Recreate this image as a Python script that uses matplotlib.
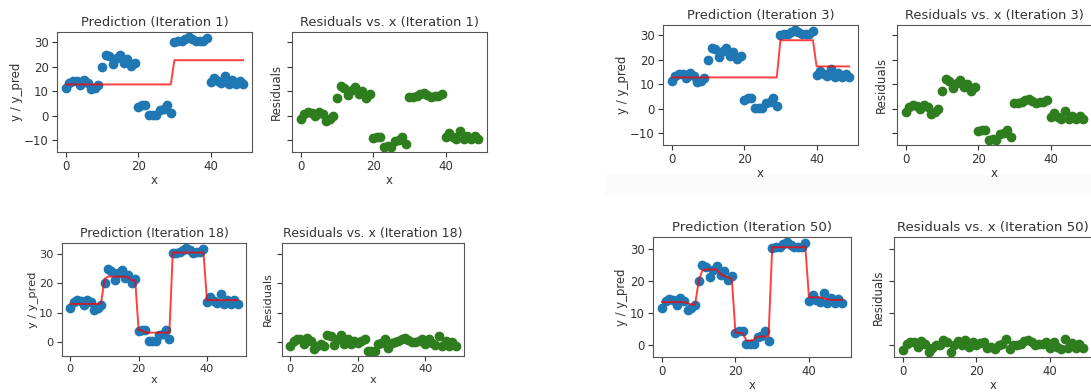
import numpy as np
import matplotlib
matplotlib.use("Agg")
import matplotlib.pyplot as plt
from matplotlib.patches import Rectangle

# ---------------- DATA ----------------
x = np.arange(50)
y = np.array([
    11.5, 13.5, 14.2, 14.0, 12.5, 14.5, 13.5, 10.8, 11.5, 12.5,
    20.0, 24.8, 24.3, 21.3, 23.5, 24.7, 21.7, 23.0, 20.2, 21.5,
    3.7, 4.2, 4.2, 0.2, 0.3, 0.2, 2.5, 2.8, 4.2, 1.2,
    30.2, 30.5, 30.7, 31.5, 32.0, 31.3, 30.5, 30.6, 30.7, 31.7,
    13.8, 15.5, 14.0, 13.3, 16.3, 13.0, 14.5, 13.0, 14.3, 13.0,
])

pred_iter1 = np.array([12.8] * 30 + [22.7] * 20)
pred_iter3 = np.array([12.8] * 30 + [28.0] * 10 + [17.3] * 10)
pred_iter18 = np.array(
    [13.0] * 9 + [13.2, 21.5] + [22.3] * 6 + [22.0, 21.0, 21.0]
    + [4.0, 4.0] + [3.2] * 8
    + [30.5] * 10
    + [14.3] * 10
)
pred_iter50 = np.array(
    [13.3] * 7 + [13.0, 12.5, 12.5]
    + [20.0, 23.3, 23.5, 23.5, 23.5, 23.5, 22.0, 21.5, 21.0, 20.7]
    + [3.7, 3.7, 3.5, 1.2, 1.2, 1.5, 2.5, 2.5, 2.5, 2.5]
    + [30.5] * 9 + [30.8]
    + [14.8, 14.8, 14.8, 14.8, 14.5, 14.2, 14.0, 14.0, 14.0, 14.0]
)

iterations = [1, 3, 18, 50]
predictions = [pred_iter1, pred_iter3, pred_iter18, pred_iter50]
# --------------------------------------

W, H = 1091, 392
fig = plt.figure(figsize=(W / 100, H / 100), dpi=100)
fig.patch.set_facecolor("white")

# faint strip under the second notebook output (kept behind the axes)
fig.patches.append(Rectangle((605 / W, 1 - 193 / H), (W - 605) / W, 18 / H,
                             transform=fig.transFigure, color="#fafafa", zorder=-10))

text_color = "#333333"
spine_color = "#555555"


def px_axes(x0, y0, x1, y1, **kw):
    ax = fig.add_axes([x0 / W, 1 - y1 / H, (x1 - x0) / W, (y1 - y0) / H], **kw)
    ax.patch.set_alpha(0)
    return ax


def style(ax, fs):
    for s in ax.spines.values():
        s.set_color(spine_color)
    ax.tick_params(labelsize=fs, colors=text_color, length=3.5, pad=2.5)
    ax.set_xticks([0, 20, 40])


# pixel boxes: (prediction axes, residual axes, title size, tick size)
layout = [
    ((57, 32, 252, 152), (292, 32, 487, 152), 9.4, 8.5),
    ((663, 25, 858, 145), (897, 25, 1092, 145), 9.4, 8.5),
    ((62, 243, 246, 356), (282, 243, 464, 356), 9.0, 8.2),
    ((653, 237, 851, 357), (894, 237, 1092, 357), 9.6, 8.4),
]

for it, pred, (pbox, rbox, tfs, fs) in zip(iterations, predictions, layout):
    ax1 = px_axes(*pbox)
    ax2 = px_axes(*rbox, sharey=ax1)

    ax1.scatter(x, y, s=36, color="#1f77b4", zorder=2)
    ax1.plot(x, pred, color="red", alpha=0.75, lw=1.4, zorder=3)
    ax1.set_title(f"Prediction (Iteration {it})", fontsize=tfs, color=text_color, pad=4)
    ax1.set_xlabel("x", fontsize=fs, color=text_color, labelpad=0.5)
    ax1.set_ylabel("y / y_pred", fontsize=fs, color=text_color, labelpad=1)
    style(ax1, fs)

    ax2.scatter(x, y - pred, s=36, color="#2e7d1e")
    ax2.set_title(f"Residuals vs. x (Iteration {it})", fontsize=tfs, color=text_color, pad=4)
    ax2.set_xlabel("x", fontsize=fs, color=text_color, labelpad=0.5)
    ax2.set_ylabel("Residuals", fontsize=fs, color=text_color, labelpad=3)
    style(ax2, fs)
    ax2.tick_params(labelleft=False)

fig.savefig("out.png", dpi=100)
